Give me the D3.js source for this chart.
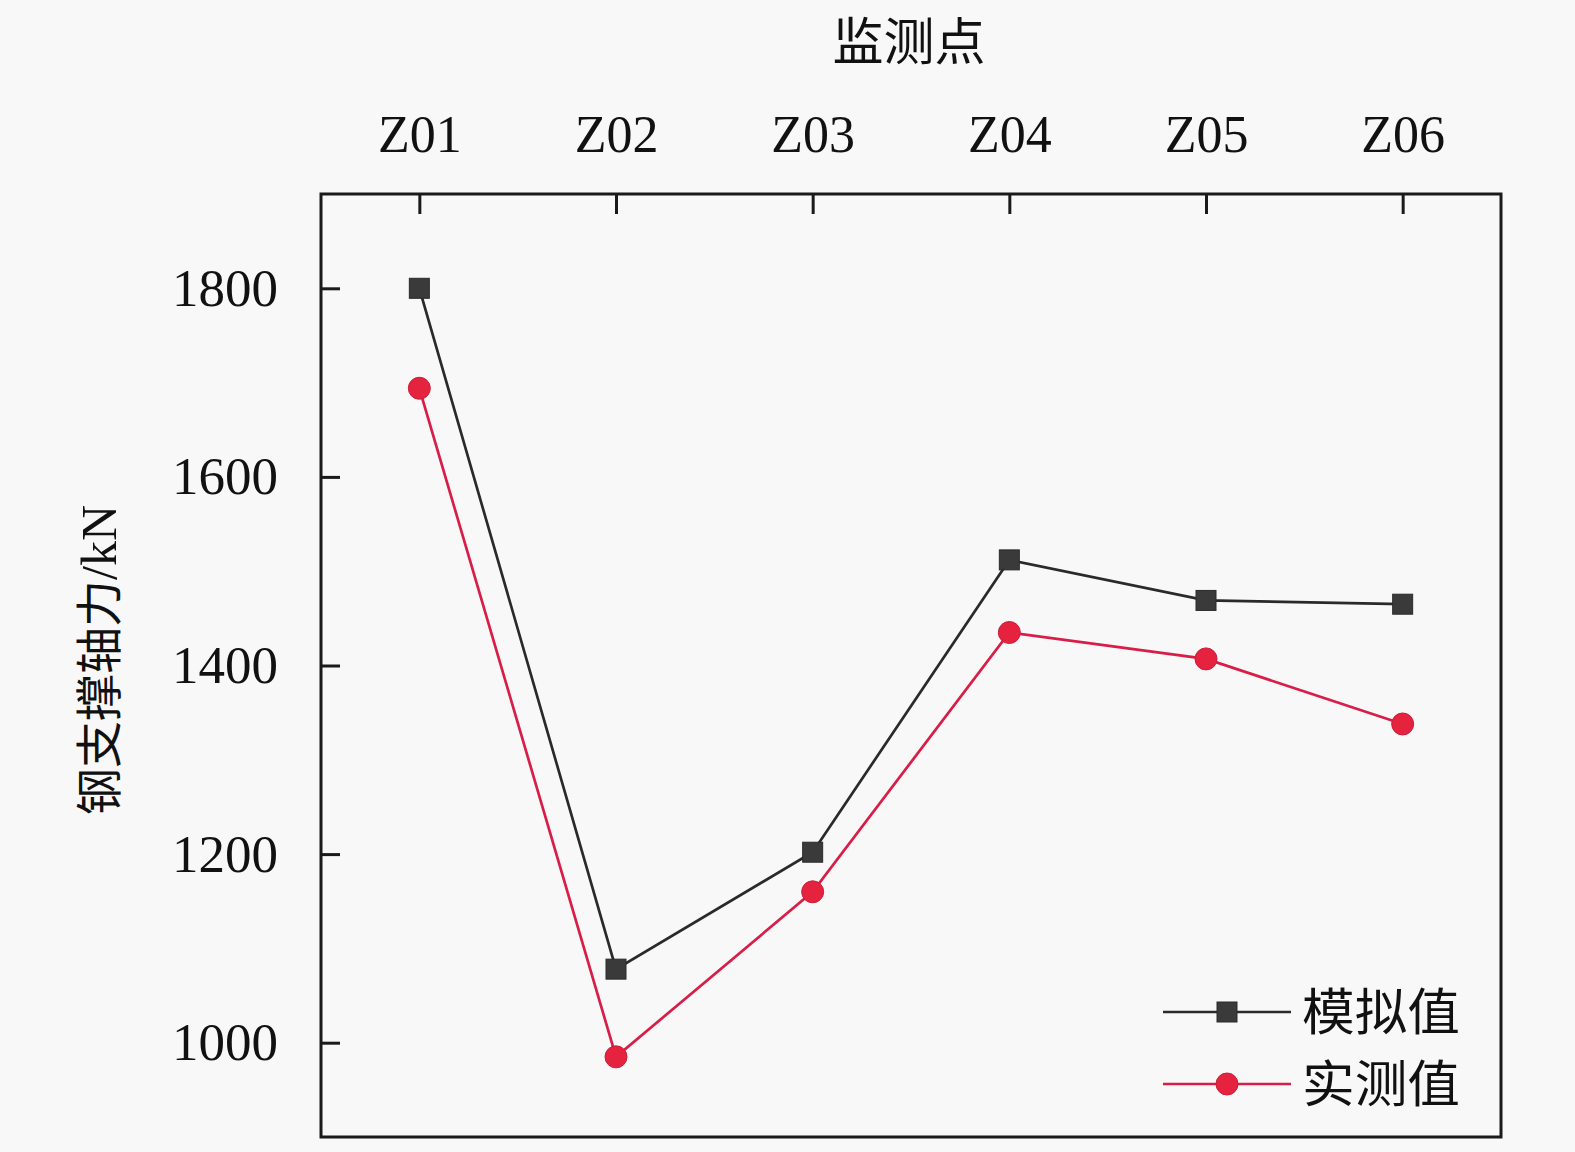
<!DOCTYPE html>
<html><head><meta charset="utf-8">
<script src="https://cdn.jsdelivr.net/npm/d3@7"></script>
<style>html,body{margin:0;padding:0;background:#f8f8f8;}</style>
</head><body>
<svg id="chart" width="1575" height="1152"></svg>
<script>
const categories = ["Z01","Z02","Z03","Z04","Z05","Z06"];
const simulated = [1800, 1078, 1202, 1512, 1469, 1465];
const measured = [1694, 985, 1160, 1435, 1407, 1338];
const yTicks = [1000, 1200, 1400, 1600, 1800];
const seriesNames = ["模拟值", "实测值"];
const xTitle = "监测点";
const yTitleCJK = "钢支撑轴力";
const yTitleUnit = "/kN";

const svg = d3.select("#chart");
svg.append("rect").attr("width",1575).attr("height",1152).attr("fill","#f8f8f8");
const L=321, T=194, W=1180, H=943;
const serif = "'Liberation Serif','Times New Roman',serif";
const cjk = "'Noto Sans CJK SC','Noto Sans CJK JP',sans-serif";

const x = d3.scalePoint().domain(categories).range([L, L+W]).padding(0.5);
const y = d3.scaleLinear().domain([900,1900]).range([T+H, T]);

const g = svg.append("g");
g.append("rect").attr("x",L).attr("y",T).attr("width",W).attr("height",H)
 .attr("fill","none").attr("stroke","#1a1a1a").attr("stroke-width",3);

const xa = g.append("g").attr("transform",`translate(0,${T})`)
  .call(d3.axisTop(x).tickSize(-20).tickPadding(42));
xa.select(".domain").remove();
xa.selectAll("line").attr("stroke","#1a1a1a").attr("stroke-width",3);
xa.selectAll("text").attr("font-family",serif).attr("font-size",52).attr("fill","#111");

const ya = g.append("g").attr("transform",`translate(${L},0)`)
  .call(d3.axisLeft(y).tickValues(yTicks).tickFormat(d3.format("d")).tickSize(-19).tickPadding(43));
ya.select(".domain").remove();
ya.selectAll("line").attr("stroke","#1a1a1a").attr("stroke-width",3);
ya.selectAll("text").attr("font-family",serif).attr("font-size",53).attr("fill","#111");

svg.append("text").attr("x",909).attr("y",60).attr("text-anchor","middle")
 .attr("font-family",cjk).attr("font-size",51).attr("fill","#111").text(xTitle);
const yt = svg.append("text").attr("transform","translate(116,660) rotate(-90)")
 .attr("text-anchor","middle").attr("fill","#111");
yt.append("tspan").attr("font-family",cjk).attr("font-size",47).text(yTitleCJK);
yt.append("tspan").attr("font-family",serif).attr("font-size",50).text(yTitleUnit);

const line = d3.line().x((d,i)=>x(categories[i])).y(d=>y(d));
const colors = {sim:{line:"#2a2a2a", fill:"#3a3a3a"}, mea:{line:"#d81e48", fill:"#e5233f"}};

g.append("path").datum(simulated).attr("d",line).attr("fill","none")
 .attr("stroke",colors.sim.line).attr("stroke-width",2.7);
g.append("path").datum(measured).attr("d",line).attr("fill","none")
 .attr("stroke",colors.mea.line).attr("stroke-width",2.7);

const sq = 20;
g.selectAll(".sq").data(simulated).enter().append("rect")
 .attr("x",(d,i)=>x(categories[i])-sq/2).attr("y",d=>y(d)-sq/2)
 .attr("width",sq).attr("height",sq).attr("fill",colors.sim.fill)
 .attr("stroke","#2a2a2a").attr("stroke-width",1);
g.selectAll(".ci").data(measured).enter().append("circle")
 .attr("cx",(d,i)=>x(categories[i])).attr("cy",d=>y(d)).attr("r",11)
 .attr("fill",colors.mea.fill).attr("stroke","#c81e3c").attr("stroke-width",1);

const lg = svg.append("g");
const rows = [{y:1012, c:colors.sim, shape:"sq"},{y:1084, c:colors.mea, shape:"ci"}];
rows.forEach((r,i)=>{
  lg.append("line").attr("x1",1163).attr("x2",1291).attr("y1",r.y).attr("y2",r.y)
    .attr("stroke", r.c.line).attr("stroke-width",2.7);
  if(r.shape==="sq"){
    lg.append("rect").attr("x",1227-sq/2).attr("y",r.y-sq/2).attr("width",sq).attr("height",sq)
      .attr("fill",r.c.fill).attr("stroke","#2a2a2a").attr("stroke-width",1);
  } else {
    lg.append("circle").attr("cx",1227).attr("cy",r.y).attr("r",11)
      .attr("fill",r.c.fill).attr("stroke","#c81e3c").attr("stroke-width",1);
  }
  lg.append("text").attr("x",1302).attr("y",r.y+18).attr("font-family",cjk)
    .attr("font-size",49.5).attr("textLength",158).attr("lengthAdjust","spacingAndGlyphs")
    .attr("fill","#111").text(seriesNames[i]);
});
</script>
</body></html>
